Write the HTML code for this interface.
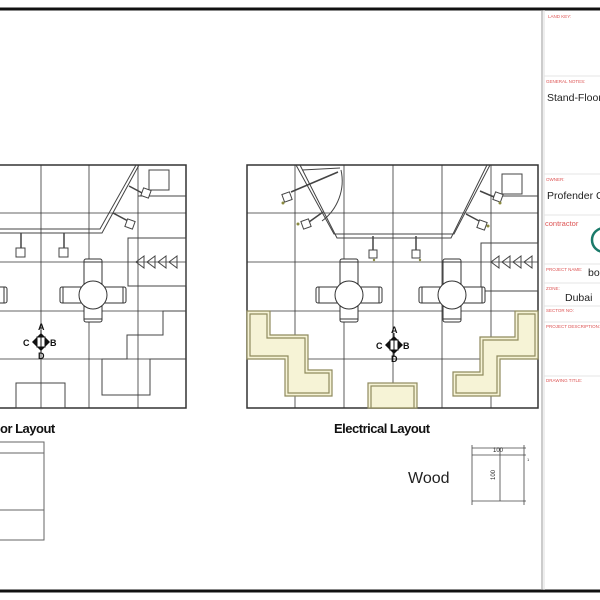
<!DOCTYPE html>
<html><head><meta charset="utf-8"><style>
html,body{margin:0;padding:0;background:#fff}
svg{display:block;font-family:"Liberation Sans",sans-serif}
</style></head><body>
<svg width="600" height="600" viewBox="0 0 600 600" xmlns="http://www.w3.org/2000/svg">
<rect width="600" height="600" fill="#fff"/>
<line x1="0" y1="9" x2="600" y2="9" stroke="#111" stroke-width="3"/>
<line x1="0" y1="591" x2="600" y2="591" stroke="#111" stroke-width="3"/>
<line x1="542" y1="10" x2="542" y2="590" stroke="#999" stroke-width="1"/>
<line x1="544" y1="10" x2="544" y2="590" stroke="#ddd" stroke-width="1"/>
<g stroke="#e4e4e4" stroke-width="1">
<line x1="544" y1="76" x2="600" y2="76"/><line x1="544" y1="174" x2="600" y2="174"/>
<line x1="544" y1="215" x2="600" y2="215"/><line x1="544" y1="264" x2="600" y2="264"/>
<line x1="544" y1="283" x2="600" y2="283"/><line x1="544" y1="306" x2="600" y2="306"/>
<line x1="544" y1="322" x2="600" y2="322"/><line x1="544" y1="376" x2="600" y2="376"/>
</g>
<g fill="#d55" font-size="4.5">
<text x="548" y="18">LAND KEY:</text>
<text x="546" y="83">GENERAL NOTES:</text>
<text x="546" y="181">OWNER:</text>
<text x="546" y="271">PROJECT NAME:</text>
<text x="546" y="290">ZONE:</text>
<text x="546" y="312">SECTOR NO:</text>
<text x="546" y="328">PROJECT DESCRIPTION:</text>
<text x="546" y="382">DRAWING TITLE:</text>
</g>
<text x="545" y="226" fill="#d55" font-size="7.5">contractor</text>
<g fill="#222" font-size="10.5">
<text x="547" y="101">Stand-Floor</text>
<text x="547" y="199">Profender C</text>
<text x="588" y="276">bo</text>
<text x="565" y="301">Dubai</text>
</g>
<path d="M604 228 A12 12 0 0 0 604 252" fill="none" stroke="#1a7a6a" stroke-width="2.5"/>

<g stroke="#333" stroke-width="0.8" fill="none">
<rect x="247" y="165" width="291" height="243" stroke-width="1.5"/>
<line x1="295" y1="165" x2="295" y2="408"/><line x1="344" y1="165" x2="344" y2="408"/>
<line x1="393" y1="165" x2="393" y2="408"/><line x1="442" y1="165" x2="442" y2="408"/>
<line x1="491" y1="165" x2="491" y2="408"/>
<line x1="247" y1="213" x2="538" y2="213"/><line x1="247" y1="262" x2="538" y2="262"/>
<line x1="247" y1="311" x2="538" y2="311"/><line x1="247" y1="359" x2="538" y2="359"/>
</g>
<g fill="#f6f3d6" stroke="#8f8a5e" stroke-width="1.2">
<path d="M247 311 H270 V335 H308 V370 H332 V396 H285 V359 H247 Z"/>
<path d="M250 314 H267 V338 H305 V373 H329 V393 H288 V356 H250 Z" fill="none"/>
<path d="M538 311 H515 V337 H480 V372 H453 V396 H500 V359 H538 Z"/>
<path d="M535 314 H518 V340 H483 V375 H456 V393 H497 V356 H535 Z" fill="none"/>
<rect x="368" y="383" width="49" height="25"/>
<rect x="371" y="386" width="43" height="22" fill="none"/>
</g>
<g fill="none" stroke="#444" stroke-width="1">
<path d="M296 165 L334 234 H454 L490 165"/>
<path d="M300 165 L337 238 H451 L487 165"/>
<path d="M341 170 A50 50 0 0 1 322 221" />
<line x1="302" y1="170" x2="340" y2="168"/>
<line x1="291" y1="192" x2="338" y2="172" stroke-width="1.5"/>
<line x1="309" y1="222" x2="323" y2="212" stroke-width="1.5"/>
<line x1="480" y1="191" x2="494" y2="197" stroke-width="1.5"/>
<line x1="466" y1="214" x2="481" y2="222" stroke-width="1.5"/>
<line x1="373" y1="236" x2="373" y2="250" stroke-width="1.5"/>
<line x1="416" y1="236" x2="416" y2="250" stroke-width="1.5"/>
<rect x="502" y="174" width="20" height="20"/>
<line x1="491" y1="196" x2="538" y2="196"/>
<rect x="481" y="243" width="57" height="48"/>
</g>
<g fill="#fff" stroke="#444" stroke-width="1">
<rect x="283" y="193" width="8" height="8" transform="rotate(-20 287 197)"/>
<rect x="302" y="220" width="8" height="8" transform="rotate(-20 306 224)"/>
<rect x="494" y="193" width="8" height="8" transform="rotate(20 498 197)"/>
<rect x="478" y="221" width="8" height="8" transform="rotate(20 482 225)"/>
<rect x="369" y="250" width="8" height="8"/><rect x="412" y="250" width="8" height="8"/>
</g>
<g fill="#8a8a40"><circle cx="283" cy="203" r="1.5"/><circle cx="298" cy="224" r="1.5"/><circle cx="500" cy="203" r="1.5"/><circle cx="488" cy="226" r="1.5"/><circle cx="374" cy="260" r="1.2"/><circle cx="420" cy="260" r="1.2"/></g>
<g fill="none" stroke="#444" stroke-width="1">
<path d="M499 256 L491 262 L499 268 Z M510 256 L502 262 L510 268 Z M521 256 L513 262 L521 268 Z M532 256 L524 262 L532 268 Z"/>
</g>
<defs>
<g id="ch" fill="#fff" stroke="#333" stroke-width="1">
<rect x="-33" y="-8" width="66" height="16" rx="2"/>
<rect x="-9" y="-36" width="18" height="63" rx="2"/>
<line x1="-30" y1="-8" x2="-30" y2="8"/><line x1="30" y1="-8" x2="30" y2="8"/>
<line x1="-9" y1="-33" x2="9" y2="-33"/><line x1="-9" y1="24" x2="9" y2="24"/>
<circle r="14"/>
</g>
<g id="cp">
<path d="M0 -9 L9 0 L0 9 L-9 0 Z" fill="#111"/>
<rect x="-4" y="-5" width="8" height="10" fill="#fff" stroke="#111" stroke-width="1"/>
<line x1="0" y1="-12" x2="0" y2="12" stroke="#111" stroke-width="1"/>
<g font-size="9" font-weight="bold" fill="#111">
<text x="-3" y="-12">A</text><text x="9" y="4">B</text><text x="-18" y="4">C</text><text x="-3" y="17">D</text></g>
</g>
</defs>
<use href="#ch" x="349" y="295"/><use href="#ch" x="452" y="295"/>
<use href="#cp" x="394" y="345"/>

<g stroke="#333" stroke-width="0.8" fill="none">
<rect x="-105" y="165" width="291" height="243" stroke-width="1.5"/>
<line x1="41" y1="165" x2="41" y2="408"/><line x1="89" y1="165" x2="89" y2="408"/>
<line x1="138" y1="165" x2="138" y2="408"/>
<line x1="0" y1="213" x2="186" y2="213"/><line x1="0" y1="262" x2="186" y2="262"/>
<line x1="0" y1="311" x2="186" y2="311"/><line x1="0" y1="359" x2="186" y2="359"/>
</g>
<g fill="none" stroke="#444" stroke-width="1">
<path d="M0 229 H100 L136 165"/><path d="M0 233 H102 L139 165"/>
<path d="M186 311 H163 V335 H127 V359 H102 V395 H150 V359 H186"/>
<rect x="16" y="383" width="49" height="25"/>
<rect x="149" y="170" width="20" height="20"/>
<line x1="138" y1="196" x2="186" y2="196"/>
<rect x="128" y="238" width="58" height="48"/>
<path d="M144 256 L136 262 L144 268 Z M155 256 L147 262 L155 268 Z M166 256 L158 262 L166 268 Z M177 256 L169 262 L177 268 Z"/>
<line x1="129" y1="186" x2="144" y2="194" stroke-width="1.5"/>
<line x1="113" y1="213" x2="128" y2="221" stroke-width="1.5"/>
<line x1="21" y1="233" x2="21" y2="248" stroke-width="1.5"/>
<line x1="64" y1="233" x2="64" y2="248" stroke-width="1.5"/>
</g>
<g fill="#fff" stroke="#444" stroke-width="1">
<rect x="142" y="189" width="8" height="8" transform="rotate(20 146 193)"/>
<rect x="126" y="220" width="8" height="8" transform="rotate(20 130 224)"/>
<rect x="16" y="248" width="9" height="9"/><rect x="59" y="248" width="9" height="9"/>
</g>
<use href="#ch" x="93" y="295"/>
<use href="#ch" x="-26" y="295"/>
<use href="#cp" x="41" y="342"/>

<g font-weight="bold" font-size="13" fill="#111" letter-spacing="-0.5">
<text x="0" y="433">or Layout</text>
<text x="334" y="433">Electrical Layout</text>
</g>
<g fill="none" stroke="#666" stroke-width="1">
<rect x="-5" y="442" width="49" height="98"/>
<line x1="0" y1="453" x2="44" y2="453"/><line x1="0" y1="510" x2="44" y2="510"/>
</g>
<text x="408" y="483" font-size="16" fill="#222">Wood</text>
<g stroke="#444" stroke-width="0.8" fill="none">
<line x1="472" y1="445" x2="472" y2="505"/><line x1="524" y1="445" x2="524" y2="505"/>
<line x1="472" y1="448" x2="526" y2="448"/><line x1="472" y1="455" x2="526" y2="455"/>
<line x1="472" y1="501" x2="526" y2="501"/>
<line x1="500" y1="448" x2="500" y2="501"/>
</g>
<text x="493" y="452" font-size="6" fill="#222">100</text>
<text x="0" y="0" font-size="6" fill="#222" transform="translate(495 480) rotate(-90)">100</text>
<text x="527" y="461" font-size="4" fill="#222">1</text>
</svg>
</body></html>
